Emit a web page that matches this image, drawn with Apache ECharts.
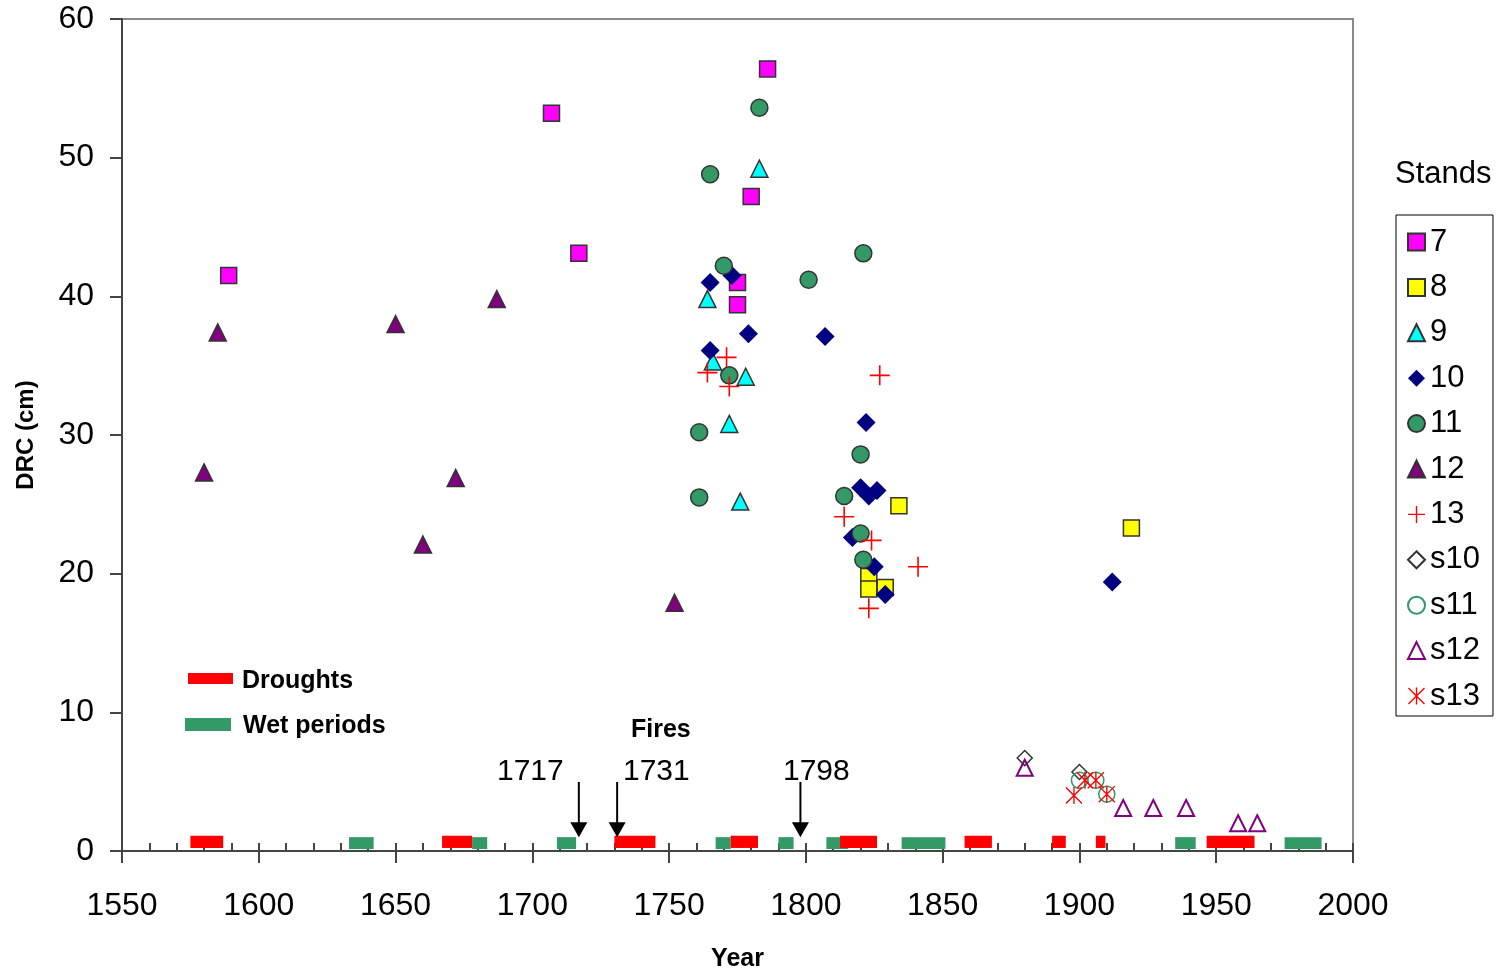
<!DOCTYPE html>
<html>
<head>
<meta charset="utf-8">
<script src="https://cdn.jsdelivr.net/npm/echarts@6/dist/echarts.min.js"></script>
<style>
  html, body { margin: 0; padding: 0; background: #fff; }
  #chart { width: 1505px; height: 972px; }
</style>
</head>
<body>
<div id="chart"></div>
<script>
// stand data: year, DRC (cm)
var st7Year = [1589, 1707, 1717, 1786, 1780, 1775, 1775];
var st7Drc  = [41.5, 53.2, 43.1, 56.4, 47.2, 41.0, 39.4];
var st8Year = [1834, 1919, 1823, 1823, 1829];
var st8Drc  = [24.9, 23.3, 19.8, 18.9, 19.0];
var st9Year = [1783, 1764, 1766, 1778, 1772, 1776];
var st9Drc  = [49.2, 39.8, 35.3, 34.2, 30.8, 25.2];
var st10Year = [1765, 1773, 1765, 1779, 1807, 1822, 1820, 1823, 1826, 1817, 1825, 1829, 1912];
var st10Drc  = [41.0, 41.5, 36.1, 37.3, 37.1, 30.9, 26.2, 25.6, 26.0, 22.6, 20.5, 18.5, 19.4];
var st11Year = [1783, 1765, 1770, 1821, 1801, 1772, 1761, 1761, 1820, 1814, 1820, 1821];
var st11Drc  = [53.6, 48.8, 42.2, 43.1, 41.2, 34.3, 30.2, 25.5, 28.6, 25.6, 22.9, 21.0];
var st12Year = [1580, 1585, 1650, 1687, 1660, 1672, 1752];
var st12Drc  = [27.3, 37.4, 38.0, 39.8, 22.1, 26.9, 17.9];
var st13Year = [1764, 1771, 1772, 1827, 1814, 1824, 1841, 1823];
var st13Drc  = [34.5, 35.6, 33.5, 34.3, 24.1, 22.4, 20.5, 17.5];
var s10Year = [1880, 1900];
var s10Drc  = [6.7, 5.7];
var s11Year = [1900, 1906, 1910];
var s11Drc  = [5.1, 5.1, 4.1];
var s12Year = [1880, 1916, 1927, 1939, 1958, 1965];
var s12Drc  = [6.0, 3.1, 3.1, 3.1, 2.0, 2.0];
var s13Year = [1898, 1902, 1906, 1910];
var s13Drc  = [4.0, 5.1, 5.1, 4.1];

// climate periods (start, end year)
var droughtStart = [1575, 1667, 1730, 1772.5, 1812.5, 1858, 1890, 1906, 1946.5];
var droughtEnd   = [1587, 1678, 1745, 1782.5, 1826, 1868, 1895, 1909.5, 1964];
var wetStart = [1633, 1678, 1709, 1767, 1790, 1807.5, 1835, 1935, 1975];
var wetEnd   = [1642, 1683.5, 1716, 1772.5, 1795.5, 1815.5, 1851, 1942.5, 1988.5];

// fires
var fireYears = [1717, 1731, 1798];

var xTicks = [1550, 1600, 1650, 1700, 1750, 1800, 1850, 1900, 1950, 2000];

function zip(a, b) {
  var out = [];
  for (var i = 0; i < a.length; i++) out.push([a[i], b[i]]);
  return out;
}

var FONT = 'Liberation Sans';
var plusPath = 'path://M46 0 L54 0 L54 100 L46 100 Z M0 46 L100 46 L100 54 L0 54 Z';
var starPath = 'path://M46 0 L54 0 L54 100 L46 100 Z M5.66 0 L100 94.34 L94.34 100 L0 5.66 Z M94.34 0 L100 5.66 L5.66 100 L0 94.34 Z';
var edge = '#333';

function stand(name, years, drc, symbol, size, style) {
  style.opacity = 1;
  return {
    name: name,
    type: 'scatter',
    xAxisIndex: 0, yAxisIndex: 0,
    symbol: symbol,
    symbolSize: size,
    data: zip(years, drc),
    itemStyle: style,
    z: 5
  };
}

var standNames = ['7', '8', '9', '10', '11', '12', '13', 's10', 's11', 's12', 's13'];

function periodSeries(name, starts, ends, color, yTop, yBot) {
  return {
    name: name,
    type: 'custom',
    xAxisIndex: 0, yAxisIndex: 0,
    data: zip(starts, ends),
    encode: { x: [0, 1] },
    renderItem: function (params, api) {
      var p1 = api.coord([api.value(0), yTop]);
      var p2 = api.coord([api.value(1), yBot]);
      return {
        type: 'rect',
        shape: { x: p1[0], y: p1[1], width: p2[0] - p1[0], height: p2[1] - p1[1] },
        style: { fill: color }
      };
    },
    z: 3
  };
}

var myChart = echarts.init(document.getElementById('chart'));
var option = {
  animation: false,
  backgroundColor: '#fff',
  grid: [
    { left: 122, right: 152, top: 19, bottom: 121, show: true, borderColor: '#8a8a8a', borderWidth: 2, outerBoundsMode: 'none', containLabel: false },
    { left: 122, right: 152, top: 19, bottom: 121, show: false, outerBoundsMode: 'none', containLabel: false }
  ],
  xAxis: [{
    type: 'value', gridIndex: 0, min: 1550, max: 2000, interval: 50,
    name: 'Year', nameLocation: 'middle', nameGap: 96,
    nameTextStyle: { fontFamily: FONT, fontSize: 25, fontWeight: 'bold', color: '#000' },
    axisLine: { lineStyle: { color: '#444', width: 2 } },
    axisTick: { inside: false, length: 12, lineStyle: { color: '#444', width: 2 } },
    axisLabel: { fontFamily: FONT, fontSize: 32, color: '#000', margin: 39,
      formatter: function (v) { return xTicks.indexOf(v) >= 0 ? String(v) : ''; } },
    splitLine: { show: false }
  }, {
    type: 'value', gridIndex: 1, min: 1550, max: 2000, interval: 10,
    axisLine: { show: false },
    axisTick: { inside: true, length: 8, lineStyle: { color: '#444', width: 2 } },
    axisLabel: { show: false },
    splitLine: { show: false }
  }],
  yAxis: [{
    type: 'value', gridIndex: 0, min: 0, max: 60, interval: 10,
    name: 'DRC (cm)', nameLocation: 'middle', nameGap: 84,
    nameTextStyle: { fontFamily: FONT, fontSize: 24, fontWeight: 'bold', color: '#000' },
    axisLine: { show: true, lineStyle: { color: '#444', width: 2 } },
    axisTick: { show: true, inside: false, length: 12, lineStyle: { color: '#444', width: 2 } },
    axisLabel: { fontFamily: FONT, fontSize: 32, color: '#000', margin: 28, padding: [10, 0, 0, 0] },
    splitLine: { show: false }
  }, {
    type: 'value', gridIndex: 1, min: 0, max: 60, show: false
  }],
  legend: {
    data: standNames,
    orient: 'vertical',
    left: 1396, top: 215,
    padding: [11, 13, 4, 11],
    itemGap: 13.4,
    itemWidth: 17, itemHeight: 17,
    itemTextGap: 19,
    borderColor: '#000', borderWidth: 1,
    textStyle: { fontFamily: FONT, fontSize: 31, color: '#000', lineHeight: 32 }
  },
  graphic: [
    { type: 'text', left: 1395, top: 159, style: { text: 'Stands', font: '31px "Liberation Sans"', fill: '#000' } },
    { type: 'rect', shape: { x: 188, y: 673, width: 45, height: 11 }, style: { fill: '#ff0000' } },
    { type: 'text', left: 242, top: 669, style: { text: 'Droughts', font: 'bold 25px "Liberation Sans"', fill: '#000' } },
    { type: 'rect', shape: { x: 185, y: 718, width: 46, height: 13 }, style: { fill: '#339966' } },
    { type: 'text', left: 243, top: 714, style: { text: 'Wet periods', font: 'bold 25px "Liberation Sans"', fill: '#000' } },
    { type: 'text', left: 631, top: 718, style: { text: 'Fires', font: 'bold 25px "Liberation Sans"', fill: '#000' } },
    { type: 'text', left: 497, top: 757, style: { text: '1717', font: '30px "Liberation Sans"', fill: '#000' } },
    { type: 'text', left: 623, top: 757, style: { text: '1731', font: '30px "Liberation Sans"', fill: '#000' } },
    { type: 'text', left: 783, top: 757, style: { text: '1798', font: '30px "Liberation Sans"', fill: '#000' } }
  ],
  series: [
    periodSeries('Wet periods', wetStart, wetEnd, '#339966', 1.0, 0.14),
    periodSeries('Droughts', droughtStart, droughtEnd, '#ff0000', 1.1, 0.22),
    {
      name: 'Fires',
      type: 'custom',
      xAxisIndex: 0, yAxisIndex: 0,
      data: fireYears.map(function (y) { return [y]; }),
      encode: { x: 0 },
      renderItem: function (params, api) {
        var top = api.coord([api.value(0), 4.98]);
        var tip = api.coord([api.value(0), 1.0]);
        return {
          type: 'group',
          children: [
            { type: 'line', shape: { x1: top[0], y1: top[1], x2: tip[0], y2: tip[1] - 12 }, style: { stroke: '#000', lineWidth: 2 } },
            { type: 'polygon', shape: { points: [[tip[0] - 8.5, tip[1] - 15], [tip[0] + 8.5, tip[1] - 15], [tip[0], tip[1]]] }, style: { fill: '#000' } }
          ]
        };
      },
      z: 4
    },
    stand('7', st7Year, st7Drc, 'rect', 16, { color: '#ff00ff', borderColor: edge, borderWidth: 1.5 }),
    stand('8', st8Year, st8Drc, 'rect', 16, { color: '#ffff00', borderColor: edge, borderWidth: 1.5 }),
    stand('9', st9Year, st9Drc, 'triangle', 17, { color: '#00ffff', borderColor: edge, borderWidth: 1.5 }),
    stand('10', st10Year, st10Drc, 'diamond', 19, { color: '#000080' }),
    stand('11', st11Year, st11Drc, 'circle', 17, { color: '#339966', borderColor: edge, borderWidth: 1.5 }),
    stand('12', st12Year, st12Drc, 'triangle', 17, { color: '#800080', borderColor: edge, borderWidth: 1.5 }),
    stand('13', st13Year, st13Drc, plusPath, 20, { color: '#ff0000' }),
    stand('s10', s10Year, s10Drc, 'diamond', 15, { color: 'rgba(255,255,255,0)', borderColor: '#333', borderWidth: 1.5 }),
    stand('s11', s11Year, s11Drc, 'circle', 16, { color: 'rgba(255,255,255,0)', borderColor: '#339966', borderWidth: 1.5 }),
    stand('s12', s12Year, s12Drc, 'triangle', 16, { color: 'rgba(255,255,255,0)', borderColor: '#800080', borderWidth: 2 }),
    stand('s13', s13Year, s13Drc, starPath, 17, { color: '#ff0000' })
  ]
};
myChart.setOption(option);
</script>
</body>
</html>
